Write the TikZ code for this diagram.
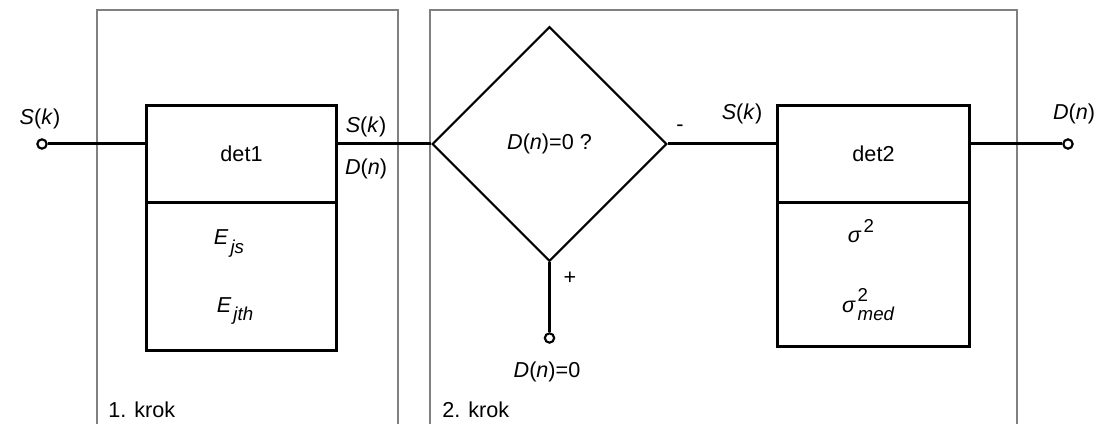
\documentclass[tikz,border=0pt]{standalone}
\usepackage{fontspec}
\setmainfont{Liberation Sans}
\usetikzlibrary{shapes.geometric}

\newcommand{\lo}[1]{\kern1.5pt\raisebox{-0.75ex}{\fontsize{14}{16}\selectfont\itshape #1}}
\newcommand{\hi}[1]{\kern1.5pt\raisebox{0.9ex}{\fontsize{14}{16}\selectfont #1}}

\begin{document}
\begin{tikzpicture}[x=0.75pt,y=-0.75pt,font=\fontsize{16.2}{19}\selectfont]

	\tikzstyle{block}=[draw,rectangle,line width=2.25pt,anchor=north west,inner sep=0pt]
	\tikzstyle{cond}=[draw,diamond,line width=1.7pt,minimum width=176pt,minimum height=176pt,inner sep=0pt]
	\tikzstyle{port}=[draw,circle,line width=1.6pt,fill=white,inner sep=0pt,minimum size=7pt]
	\tikzstyle{wire}=[line width=2.25pt]
	\tikzstyle{frame}=[draw=gray,line width=0.9pt]
	\tikzstyle{lbl}=[anchor=base,inner sep=0pt]

	\useasboundingbox (0,0) rectangle (1104,424);

	% the two steps
	\draw[frame] (97,424) -- (97,10) -- (398,10) -- (398,424);
	\draw[frame] (430,424) -- (430,10) -- (1017,10) -- (1017,424);
	\node[lbl,anchor=base west] (step1) at (108,417) {1. krok};
	\node[lbl,anchor=base west] (step2) at (442,417) {2. krok};

	% first detector
	\node[block,minimum width=142.5pt,minimum height=72.75pt] (det1) at (145,104) {det1};
	\node[block,minimum width=142.5pt,minimum height=111pt] (par1) at (145,201) {};
	\node[lbl] (ejs) at (229,245) {\textit{E}\lo{js}};
	\node[lbl] (ejth) at (235,312) {\textit{E}\lo{jth}};

	% decision
	\node[cond] (test) at (549.5,144) {\textit{D}(\textit{n})=0 ?};

	% second detector
	\node[block,minimum width=144pt,minimum height=72.75pt] (det2) at (776,104) {det2};
	\node[block,minimum width=144pt,minimum height=108pt] (par2) at (776,201) {};
	\node[lbl] (sig) at (861,243) {\textit{σ}\hi{2}};
	\node[lbl] (sigmed) at (868,312) {\textit{σ}\makebox[0pt][l]{\hi{2}}\lo{med}};

	% terminals
	\node[port] (in) at (42,144) {};
	\node[port] (out) at (1068,144) {};
	\node[port] (zero) at (549.5,338) {};

	\draw[wire] (in.east) -- (in -| det1.west);
	\draw[wire] (in -| det1.east) -- (test.west);
	\draw[wire] (test.east) -- (test.east -| det2.west);
	\draw[wire] (out -| det2.east) -- (out.west);
	\draw[wire] (test.south) -- (zero.north);

	% signal names
	\node[lbl] (sin) at (40,125) {\textit{S}(\textit{k})};
	\node[lbl] (smid) at (366,133) {\textit{S}(\textit{k})};
	\node[lbl] (dmid) at (366,175) {\textit{D}(\textit{n})};
	\node[lbl] (minus) at (680,132) {-};
	\node[lbl] (plus) at (570,285) {+};
	\node[lbl] (dzero) at (547,377) {\textit{D}(\textit{n})=0};
	\node[lbl] (sright) at (742,120) {\textit{S}(\textit{k})};
	\node[lbl] (dout) at (1074,120) {\textit{D}(\textit{n})};

\end{tikzpicture}
\end{document}
